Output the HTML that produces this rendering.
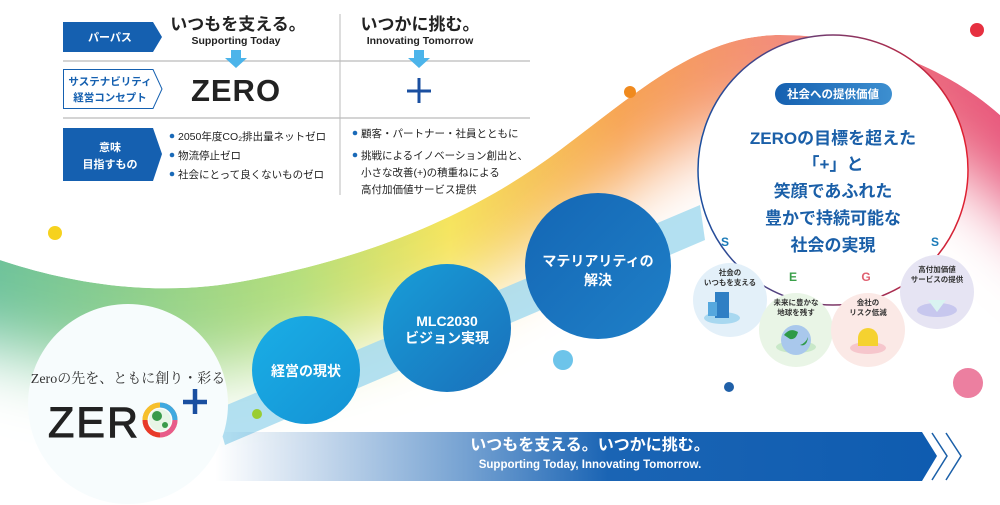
<!DOCTYPE html>
<html><head><meta charset="utf-8"><style>
html,body{margin:0;background:#fff;width:1000px;height:505px;overflow:hidden;}
svg{display:block;font-family:"Liberation Sans","Noto Sans CJK JP",sans-serif;overflow:hidden;}
</style></head><body>
<svg width="1000" height="505" viewBox="0 0 1000 505" xmlns="http://www.w3.org/2000/svg">
<defs>
<linearGradient id="rb" x1="0" y1="0" x2="1000" y2="0" gradientUnits="userSpaceOnUse">
<stop offset="0" stop-color="#6fc39a"/><stop offset="0.3" stop-color="#b6df7c"/><stop offset="0.45" stop-color="#f6e45c"/><stop offset="0.62" stop-color="#f7a352"/><stop offset="0.8" stop-color="#f28a80"/><stop offset="1" stop-color="#e8587c"/>
</linearGradient>
<filter id="bl" x="-20%" y="-50%" width="140%" height="200%"><feGaussianBlur stdDeviation="35"/></filter>
<path id="wv" d="M-100,240 L0,260 C60,280 150,300 250,280 C380,255 480,210 560,150 C640,90 700,35 780,35 C870,35 950,70 1000,115 L1100,205 L1100,505 L-100,505 Z"/>
<mask id="wm" maskUnits="userSpaceOnUse" x="0" y="0" width="1000" height="505">
<use href="#wv" fill="#fff"/>
<use href="#wv" fill="#000" transform="translate(0,85)" filter="url(#bl)"/>
</mask>
<linearGradient id="arr" x1="215" y1="0" x2="930" y2="0" gradientUnits="userSpaceOnUse">
<stop offset="0" stop-color="#1a64b4" stop-opacity="0"/><stop offset="0.35" stop-color="#1a64b4" stop-opacity="0.6"/><stop offset="0.55" stop-color="#1a64b4"/><stop offset="1" stop-color="#0f5cb0"/></linearGradient>
<linearGradient id="c1" x1="0" y1="0" x2="1" y2="1"><stop offset="0" stop-color="#1aaee6"/><stop offset="1" stop-color="#1492d4"/></linearGradient>
<linearGradient id="c2" x1="0" y1="0" x2="1" y2="1"><stop offset="0" stop-color="#179ed8"/><stop offset="1" stop-color="#1a6fba"/></linearGradient>
<linearGradient id="c3" x1="0" y1="0" x2="1" y2="1"><stop offset="0" stop-color="#1466b4"/><stop offset="1" stop-color="#1f80c8"/></linearGradient>
<linearGradient id="ring" x1="0" y1="0" x2="1" y2="0"><stop offset="0" stop-color="#1a4fa0"/><stop offset="1" stop-color="#e02030"/></linearGradient>
<linearGradient id="pill" x1="0" y1="0" x2="1" y2="0"><stop offset="0" stop-color="#1560b0"/><stop offset="1" stop-color="#3d8fd0"/></linearGradient>
</defs>

<use href="#wv" fill="url(#rb)" mask="url(#wm)"/>

<path d="M215,410 L700,205 L705,240 L225,445 Z" fill="#a6dbef" opacity="0.85"/>

<path d="M215,432 L922,432 L937,456 L922,481 L215,481 Z" fill="url(#arr)"/>
<path d="M932,433 L947,456 L932,480 M946,433 L961,456 L946,480" fill="none" stroke="#1a5fa8" stroke-width="1.5"/>
<text x="590" y="450" fill="#fff" font-size="16" font-weight="bold" text-anchor="middle">いつもを支える。いつかに挑む。</text>
<text x="590" y="468" fill="#fff" font-size="11.5" font-weight="bold" text-anchor="middle">Supporting Today, Innovating  Tomorrow.</text>

<circle cx="128" cy="404" r="100" fill="#f7fcfd"/>
<text x="128" y="383" font-family="'Liberation Serif','Noto Serif CJK SC',serif" font-size="14" fill="#333" text-anchor="middle">Zeroの先を、ともに創り・彩る</text>
<text x="48" y="437" font-size="43" fill="#222" stroke="#222" stroke-width="1" letter-spacing="2">ZER</text>
<circle cx="160" cy="420" r="15" fill="none" stroke="#e84" stroke-width="5"/>
<path d="M160,405 A15,15 0 0 1 175,420" fill="none" stroke="#3fa9e0" stroke-width="5"/>
<path d="M175,420 A15,15 0 0 1 160,435" fill="none" stroke="#e85c8a" stroke-width="5"/>
<path d="M160,435 A15,15 0 0 1 145,420" fill="none" stroke="#e83a2a" stroke-width="5"/>
<path d="M145,420 A15,15 0 0 1 160,405" fill="none" stroke="#f6c02c" stroke-width="5"/>
<circle cx="160" cy="420" r="11" fill="#e8f5e6"/>
<circle cx="157" cy="416" r="5" fill="#3a9a4a"/><circle cx="165" cy="425" r="3" fill="#3a9a4a"/>
<path d="M195,389 V414 M183,402 H207" stroke="#1a4fa0" stroke-width="4.5"/>

<circle cx="306" cy="370" r="54" fill="url(#c1)"/>
<text x="306" y="376" fill="#fff" font-size="14" font-weight="bold" text-anchor="middle">経営の現状</text>
<circle cx="447" cy="328" r="64" fill="url(#c2)"/>
<text x="447" y="326" fill="#fff" font-size="14" font-weight="bold" text-anchor="middle">MLC2030</text>
<text x="447" y="343" fill="#fff" font-size="14" font-weight="bold" text-anchor="middle">ビジョン実現</text>
<circle cx="598" cy="266" r="73" fill="url(#c3)"/>
<text x="598" y="266" fill="#fff" font-size="14" font-weight="bold" text-anchor="middle">マテリアリティの</text>
<text x="598" y="285" fill="#fff" font-size="14" font-weight="bold" text-anchor="middle">解決</text>

<circle cx="833" cy="170" r="135" fill="#fff" stroke="url(#ring)" stroke-width="1.5"/>
<rect x="775" y="83" width="117" height="22" rx="11" fill="url(#pill)"/>
<text x="833" y="98" fill="#fff" font-size="11.5" font-weight="bold" text-anchor="middle">社会への提供価値</text>
<g fill="#1a5fa8" font-size="17" font-weight="bold" text-anchor="middle">
<text x="833" y="144">ZEROの目標を超えた</text>
<text x="833" y="170">「+」と</text>
<text x="833" y="197">笑顔であふれた</text>
<text x="833" y="224">豊かで持続可能な</text>
<text x="833" y="251">社会の実現</text>
</g>
<g font-size="12" font-weight="bold" text-anchor="middle">
<text x="725" y="246" fill="#1a7ab8">S</text>
<text x="793" y="281" fill="#3aa04a">E</text>
<text x="866" y="281" fill="#e06070">G</text>
<text x="935" y="246" fill="#1a7ab8">S</text>
</g>
<circle cx="730" cy="300" r="37" fill="#e3f0f9"/>
<circle cx="796" cy="330" r="37" fill="#e9f5e6"/>
<circle cx="868" cy="330" r="37" fill="#fbe9e6"/>
<circle cx="937" cy="292" r="37" fill="#e6e4f3"/>
<g font-size="7.5" font-weight="bold" fill="#333" text-anchor="middle">
<text x="730" y="275">社会の</text><text x="730" y="285">いつもを支える</text>
<text x="796" y="305">未来に豊かな</text><text x="796" y="315">地球を残す</text>
<text x="868" y="305">会社の</text><text x="868" y="315">リスク低減</text>
<text x="937" y="272">高付加価値</text><text x="937" y="282">サービスの提供</text>
</g>
<ellipse cx="722" cy="318" rx="18" ry="6" fill="#a8d8f0"/>
<rect x="715" y="292" width="14" height="26" fill="#2f7fc4"/><rect x="708" y="302" width="9" height="14" fill="#56a8de"/>
<ellipse cx="796" cy="347" rx="20" ry="6" fill="#c8e8c8"/>
<circle cx="796" cy="340" r="15" fill="#a9c8ec"/><path d="M784,335 q6,-8 14,-3 q-2,8 -8,7 z M800,345 q6,-2 8,-8 q-1,10 -8,8 z" fill="#2e9a48"/>
<ellipse cx="868" cy="348" rx="18" ry="6" fill="#f6c6cc"/>
<path d="M858,346 V338 a10,10 0 0 1 20,0 V346 Z" fill="#f5d230"/>
<ellipse cx="937" cy="310" rx="20" ry="7" fill="#c7c7ee"/>
<path d="M928,300 H946 L937,312 Z" fill="#d9f3f1"/>

<circle cx="55" cy="233" r="7" fill="#f6d21e"/>
<circle cx="630" cy="92" r="6" fill="#f08a1e"/>
<circle cx="977" cy="30" r="7" fill="#e63040"/>
<circle cx="257" cy="414" r="5" fill="#9acd32"/>
<circle cx="563" cy="360" r="10" fill="#6dc4ea"/>
<circle cx="729" cy="387" r="5" fill="#2060a8"/>
<circle cx="968" cy="383" r="15" fill="#ec7fa0"/>

<line x1="340" y1="14" x2="340" y2="195" stroke="#bbb"/>
<line x1="63" y1="61" x2="530" y2="61" stroke="#bbb" stroke-width="1.2"/>
<line x1="63" y1="118" x2="530" y2="118" stroke="#bbb" stroke-width="1.2"/>
<path d="M63,22 H153 L162,37 L153,52 H63 Z" fill="#1560b0"/>
<text x="110" y="41" fill="#fff" font-size="11" font-weight="bold" text-anchor="middle">パーパス</text>
<path d="M63.5,69.5 H153 L162,89 L153,108.5 H63.5 Z" fill="#fff" stroke="#1560b0"/>
<text x="110" y="85" fill="#1560b0" font-size="10.5" font-weight="bold" text-anchor="middle">サステナビリティ</text>
<text x="110" y="101" fill="#1560b0" font-size="10.5" font-weight="bold" text-anchor="middle">経営コンセプト</text>
<path d="M63,128 H153 L162,154 L153,181 H63 Z" fill="#1560b0"/>
<text x="110" y="151" fill="#fff" font-size="11" font-weight="bold" text-anchor="middle">意味</text>
<text x="110" y="168" fill="#fff" font-size="11" font-weight="bold" text-anchor="middle">目指すもの</text>

<text x="238" y="30" font-size="17" font-weight="bold" fill="#222" text-anchor="middle">いつもを支える。</text>
<text x="236" y="44" font-size="10.5" font-weight="bold" fill="#222" text-anchor="middle">Supporting Today</text>
<text x="420" y="30" font-size="17" font-weight="bold" fill="#222" text-anchor="middle">いつかに挑む。</text>
<text x="420" y="44" font-size="10.5" font-weight="bold" fill="#222" text-anchor="middle">Innovating Tomorrow</text>
<path d="M231,50 H241 V58 H247 L236,68 L225,58 H231 Z" fill="#4cb4ea"/>
<path d="M414,50 H424 V58 H430 L419,68 L408,58 H414 Z" fill="#4cb4ea"/>
<text x="236" y="101" font-size="31" font-weight="bold" fill="#222" text-anchor="middle" letter-spacing="1">ZERO</text>
<path d="M419,78 V103 M407,91 H431" stroke="#1a4fa0" stroke-width="3"/>

<g font-size="10.5" fill="#222">
<circle cx="172" cy="136" r="2.3" fill="#1a6ab8"/><text x="178" y="140">2050年度CO₂排出量ネットゼロ</text>
<circle cx="172" cy="155" r="2.3" fill="#1a6ab8"/><text x="178" y="159">物流停止ゼロ</text>
<circle cx="172" cy="174" r="2.3" fill="#1a6ab8"/><text x="178" y="178">社会にとって良くないものゼロ</text>
<circle cx="355" cy="133" r="2.3" fill="#1a6ab8"/><text x="361" y="137">顧客・パートナー・社員とともに</text>
<circle cx="355" cy="155" r="2.3" fill="#1a6ab8"/><text x="361" y="159">挑戦によるイノベーション創出と、</text>
<text x="361" y="176">小さな改善(+)の積重ねによる</text>
<text x="361" y="193">高付加価値サービス提供</text>
</g>
</svg>
</body></html>
